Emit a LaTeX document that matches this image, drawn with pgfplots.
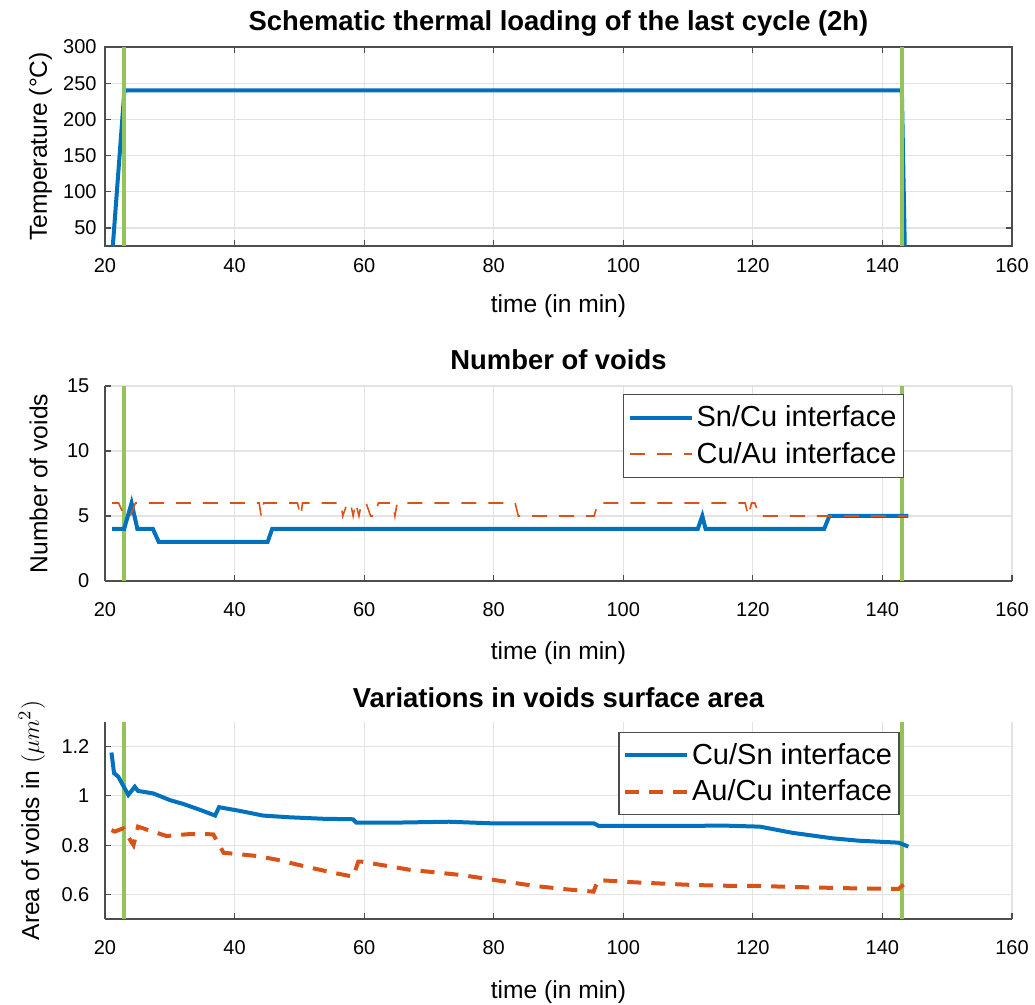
\documentclass[border=0pt]{standalone}
\usepackage{fontspec}
\setmainfont{Liberation Sans}
\usepackage{pgfplots}
\pgfplotsset{compat=1.18}
\definecolor{mblue}{HTML}{0072BD}
\definecolor{morange}{HTML}{D95319}
\definecolor{mgreen}{HTML}{92C45A}
\definecolor{mgrid}{HTML}{E3E3E3}
\definecolor{maxis}{HTML}{4D4D4D}

\pgfplotsset{
  mat/.style={
    scale only axis, width=453.5pt, anchor=south west,
    xmin=20, xmax=160, xtick={20,40,...,160},
    grid=major, major grid style={mgrid, line width=0.6pt},
    tick align=inside, major tick length=3pt,
    axis line style={-, maxis, line width=0.6pt},
    every tick/.style={maxis, line width=0.6pt},
    tick label style={font=\fontsize{10}{12}\selectfont},
    /pgf/number format/assume math mode=true,
    label style={font=\fontsize{12.3}{14}\selectfont},
    title style={font=\bfseries\fontsize{13.7}{16}\selectfont, at={(0.5,1)}, anchor=center},
    xlabel={time (in min)},
    xlabel style={at={(axis description cs:0.5,0)}, anchor=center},
    ylabel style={at={(axis description cs:0,0.5)}, anchor=center},
    xticklabel style={anchor=center},
    legend cell align=left,
    legend style={font=\fontsize{14.5}{17}\selectfont, draw=maxis, line width=0.6pt,
      fill=white, inner xsep=2pt, inner ysep=4pt, row sep=3.3pt,
      nodes={inner xsep=1.5pt, inner ysep=1.5pt}},
    legend image code/.code={\draw[##1] (0pt,0pt) -- (31pt,0pt);},
  },
  vgreen/.style={mgreen, line width=2pt, forget plot},
}

\begin{document}
\begin{tikzpicture}
% --- temperature
\begin{axis}[mat, at={(0,0)}, height=99.5pt,
  ymin=25, ymax=300, ytick={50,100,...,300},
  title={Schematic thermal loading of the last cycle (2h)},
  title style={yshift=6pt},
  ylabel={Temperature (°C)},
  ylabel style={yshift=32.2pt},
  xlabel style={yshift=-30pt},
  xticklabel style={yshift=-10pt},
  yticklabel style={xshift=-0.7pt},
]
\addplot[mblue, line width=2pt] coordinates {(21,0) (23,240) (143,240) (143.5,0)};
\addplot[vgreen] coordinates {(23,25) (23,300)};
\addplot[vgreen] coordinates {(143,25) (143,300)};
\end{axis}

% --- number of voids
\begin{axis}[mat, at={(0,-167.5pt)}, height=97.5pt,
  axis x line*=bottom, axis y line*=left,
  ymin=0, ymax=15, ytick={0,5,10,15},
  title={Number of voids},
  title style={yshift=7pt},
  ylabel={Number of voids},
  ylabel style={yshift=33.2pt},
  xlabel style={yshift=-36pt},
  xticklabel style={yshift=-14.5pt},
  yticklabel style={xshift=-4.3pt},
  legend style={at={(0.881,0.959)}, anchor=north east},
]
\addplot[vgreen] coordinates {(23,0) (23,15)};
\addplot[vgreen] coordinates {(143,0) (143,15)};
\addplot[mblue, line width=2pt] coordinates {
  (21.1,4) (22.95,4) (24.1,6) (25.0,4) (27.4,4) (28.3,3) (45.1,3) (45.8,4)
  (111.5,4) (112.2,5) (112.7,4) (131.0,4) (131.8,5) (144.0,5)};
\addlegendentry{Sn/Cu interface}
\addplot[morange, line width=0.8pt, dash pattern=on 7.5pt off 6pt] coordinates {
  (21.1,6) (22.1,6) (23,5) (23.9,5) (24.7,6) (43.8,6) (44.1,5) (44.5,6)
  (49.7,6) (50.2,5) (50.5,6) (56.4,6) (56.7,5) (57.4,6) (57.9,6) (58.3,5)
  (58.7,6) (59.2,5) (59.6,6) (60.3,6) (61,5) (61.6,5) (62.2,6) (64.4,6)
  (64.75,5) (65.1,6) (83.3,6) (83.8,5) (95.5,5) (96.1,6) (118.8,6) (119.3,5)
  (119.8,6) (120.3,6) (121,5) (143.9,5)};
\addlegendentry{Cu/Au interface}
\end{axis}

% --- void area
\begin{axis}[mat, at={(0,-336.5pt)}, height=98.5pt,
  axis x line*=bottom, axis y line*=left,
  ymin=0.5, ymax=1.3, ytick={0.6,0.8,1,1.2},
  title={Variations in voids surface area},
  title style={yshift=6pt},
  ylabel={Area of voids in $(\mu m^2)$},
  ylabel style={yshift=36.5pt},
  xlabel style={yshift=-36.5pt},
  xticklabel style={yshift=-14.5pt},
  yticklabel style={xshift=-4.3pt},
  legend style={at={(0.876,0.951)}, anchor=north east},
]
\addplot[vgreen] coordinates {(23,0.5) (23,1.3)};
\addplot[vgreen] coordinates {(143,0.5) (143,1.3)};
\addplot[mblue, line width=2pt] coordinates {
  (21.0,1.176) (21.4,1.092) (22.05,1.078) (23.6,1.004) (24.6,1.037) (25.1,1.02)
  (27.45,1.01) (30.0,0.983) (32.1,0.967) (34.7,0.943) (37.0,0.92) (37.6,0.954)
  (40.8,0.939) (44.4,0.92) (48.5,0.913) (53.7,0.907) (58.3,0.905) (58.8,0.891)
  (64.0,0.891) (73.1,0.895) (80.2,0.888) (95.5,0.888) (96.2,0.878) (105.8,0.878)
  (115.9,0.879) (121.1,0.875) (126.1,0.85) (132.2,0.828) (136.3,0.818)
  (142.5,0.81) (144,0.794)};
\addlegendentry{Cu/Sn interface}
\addplot[morange, line width=2pt, dash pattern=on 7pt off 5pt] coordinates {
  (21.0,0.861) (21.5,0.855) (22.8,0.868) (23.9,0.82) (24.4,0.80) (25.1,0.875)
  (26.7,0.861) (29.5,0.837) (33.1,0.845) (36.7,0.844) (37.5,0.807) (38.3,0.769)
  (43.4,0.756) (46.5,0.741) (51.1,0.712) (55.2,0.688) (58.3,0.672) (59.1,0.733)
  (59.6,0.733) (67,0.70) (75.2,0.678) (80.2,0.658) (86.4,0.634) (91.4,0.62)
  (95.4,0.611) (96.1,0.658) (101.7,0.649) (110.8,0.638) (115.9,0.635) (120,0.635)
  (126.1,0.63) (136.4,0.624) (142.5,0.622) (144,0.658)};
\addlegendentry{Au/Cu interface}
\end{axis}

\pgfresetboundingbox
\path[use as bounding box] (-52.5pt,-379.5pt) rectangle (465pt,123pt);
\end{tikzpicture}
\end{document}
